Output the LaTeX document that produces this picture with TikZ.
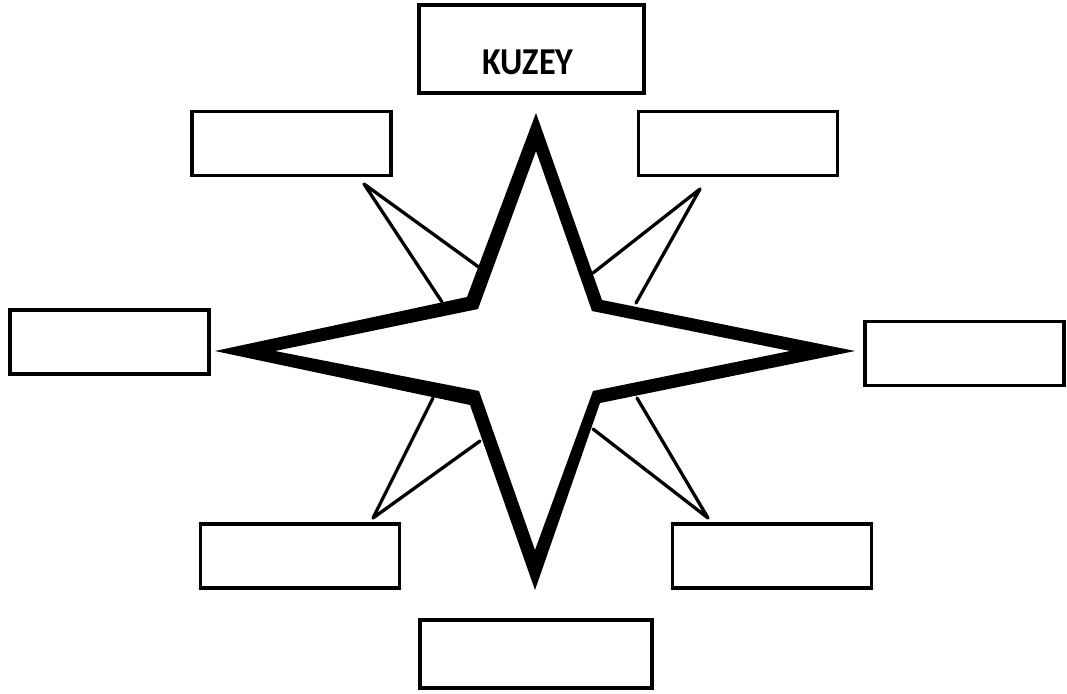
\documentclass[tikz,border=0pt]{standalone}
\usepackage{fontspec}
\setmainfont{Carlito}
\newcommand\boxW{199pt}
\newcommand\boxH{64pt}
\newcommand\frameW{3.5pt}
\newcommand\rayW{3.3pt}
\tikzset{
    blankbox/.style={draw, line width=\frameW, minimum width=\boxW, minimum height=\boxH, inner sep=0pt},
    ray/.style={line width=\rayW, line cap=round, line join=round}
}
\begin{document}
\begin{tikzpicture}[x=1pt, y=-1pt]
    \useasboundingbox (0,0) rectangle (1067,693);

    % boxes
    \node[blankbox, minimum width=225pt, minimum height=88pt] (north) at (531.5,49) {};
    \node[font=\bfseries\fontsize{38}{40}\selectfont, inner sep=0pt, xscale=0.9, transform shape] (northlabel) at (528,62.5) {KUZEY};
    \node[blankbox] (northwest) at (291.5,143.5) {};
    \node[blankbox] (northeast) at (738,143.5) {};
    \node[blankbox] (west) at (109.5,342) {};
    \node[blankbox] (east) at (964.5,353.5) {};
    \node[blankbox] (southwest) at (300,556) {};
    \node[blankbox] (southeast) at (772,556) {};
    \node[blankbox, minimum width=232pt, minimum height=68pt] (south) at (536,654) {};

    % star corners, outer and inner outline
    \coordinate (oT) at (536,113);  \coordinate (iT) at (536,151);
    \coordinate (oNE) at (602,300); \coordinate (iNE) at (592,311);
    \coordinate (oR) at (855,351);  \coordinate (iR) at (790,351);
    \coordinate (oSE) at (600,403); \coordinate (iSE) at (593,391);
    \coordinate (oB) at (535,590);  \coordinate (iB) at (535,550);
    \coordinate (oSW) at (470,405); \coordinate (iSW) at (479,391);
    \coordinate (oL) at (215,351);  \coordinate (iL) at (275,351);
    \coordinate (oNW) at (467,297); \coordinate (iNW) at (478,309);

    % small rays between the arms
    \coordinate (nwTip) at (364,184);
    \coordinate (nwA) at (480,268); \coordinate (nwB) at (442,302);
    \coordinate (neTip) at (700,189);
    \coordinate (neA) at (593,273); \coordinate (neB) at (636,303);
    \coordinate (swTip) at (373,518);
    \coordinate (swA) at (433,398); \coordinate (swB) at (480,441);
    \coordinate (seTip) at (708,518);
    \coordinate (seA) at (637,398); \coordinate (seB) at (593,429);
    \foreach \d in {nw,ne,sw,se}{
        \draw[ray] (\d Tip) -- (\d A) (\d Tip) -- (\d B);
    }

    \fill[even odd rule]
        (oT) -- (oNE) -- (oR) -- (oSE) -- (oB) -- (oSW) -- (oL) -- (oNW) -- cycle
        (iT) -- (iNE) -- (iR) -- (iSE) -- (iB) -- (iSW) -- (iL) -- (iNW) -- cycle;
\end{tikzpicture}
\end{document}
